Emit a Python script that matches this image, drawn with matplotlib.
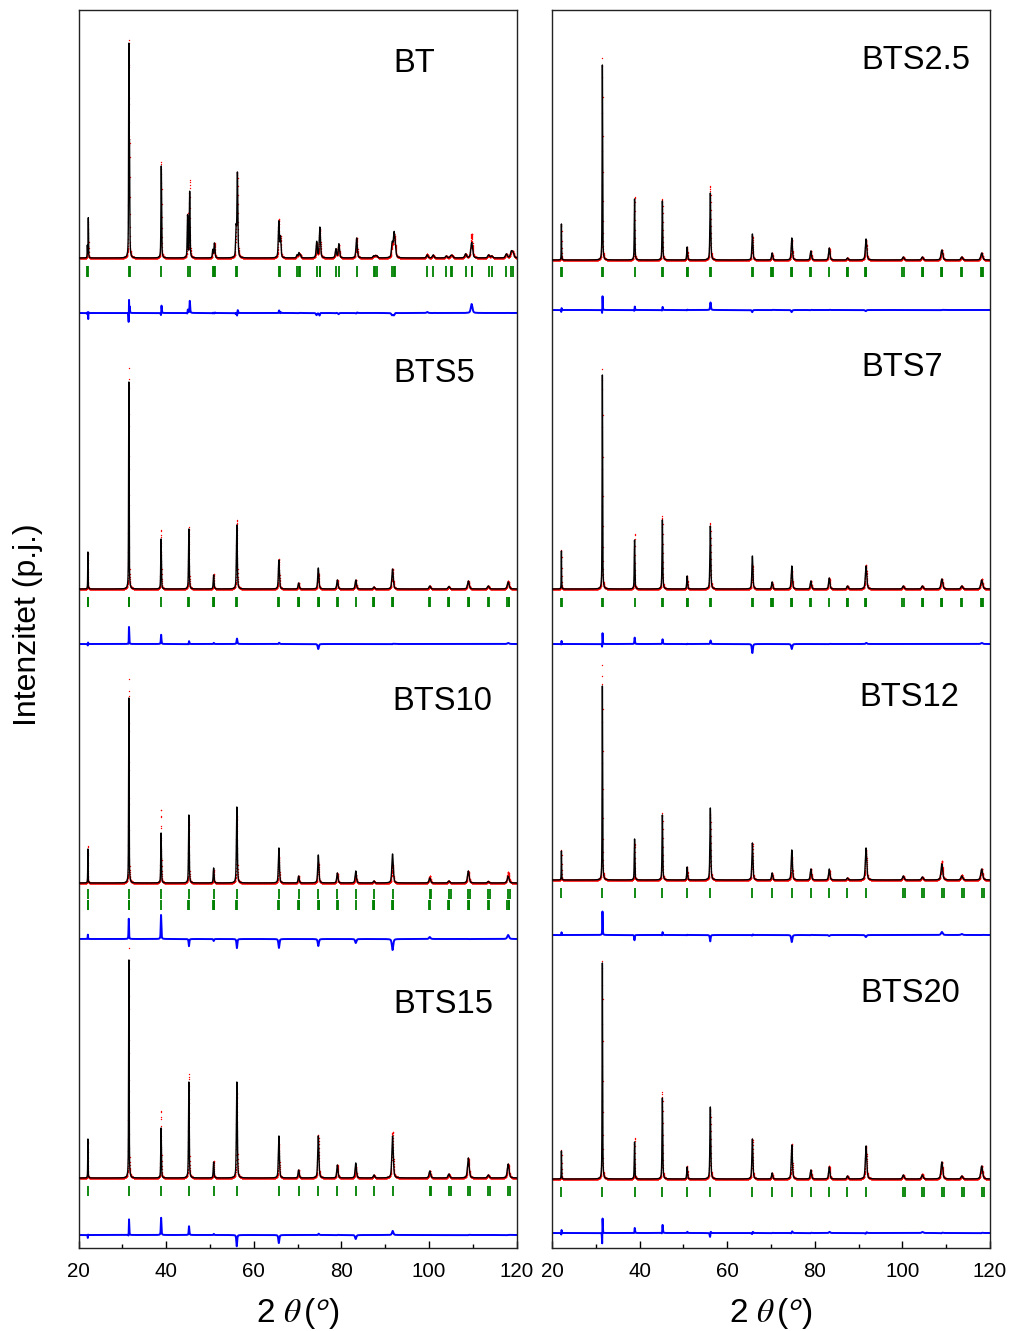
import numpy as np
import matplotlib
matplotlib.use("Agg")
import matplotlib.pyplot as plt
from matplotlib.ticker import MultipleLocator

plt.rcParams['font.family'] = ['Liberation Sans', 'DejaVu Sans']
plt.rcParams['mathtext.fontset'] = 'stix'

# ---------------------------------------------------------------------------
# Reflection positions (2theta, deg)
# ---------------------------------------------------------------------------
# pseudo-cubic perovskite reflections used for the Sn-doped samples
pc_pos = [22.15, 31.50, 38.85, 45.20, 50.85, 56.15, 65.75, 70.25, 74.75,
          79.10, 83.30, 87.45, 91.70, 100.20, 104.55, 109.00, 113.55, 118.10]

# tetragonal BaTiO3 reflections (BT)
bt_pos = [22.02, 22.24, 31.50, 31.65, 38.90, 44.90, 45.38, 50.66, 50.99, 51.10,
          55.98, 56.28, 65.73, 66.11, 69.90, 70.32, 70.66, 74.38, 75.08, 75.16,
          78.76, 79.44, 83.50, 87.36, 87.78, 88.12, 91.62, 92.04, 92.30, 99.60,
          100.96, 103.96, 105.00, 105.32, 108.38, 109.74, 109.84, 113.62, 114.34,
          117.68, 118.82, 119.20]

# Bragg marker sets
ticks_bt = bt_pos
ticks_tet = [22.10, 22.20, 31.45, 31.55, 38.85, 45.10, 45.25, 50.75, 50.90, 50.95,
             56.05, 56.20, 65.65, 65.80, 70.10, 70.25, 70.35, 74.60, 74.80, 74.85,
             78.95, 79.20, 83.30, 87.30, 87.45, 87.55, 91.55, 91.70, 91.80, 100.00,
             100.35, 104.40, 104.60, 104.70, 108.85, 109.10, 109.15, 113.45, 113.70,
             117.90, 118.20, 118.40]
ticks_cub = [22.15, 31.50, 38.85, 45.20, 50.85, 56.15, 65.75, 70.25, 74.75, 79.10,
             83.30, 87.45, 91.70, 100.20, 100.55, 104.55, 104.95, 109.00, 109.40,
             113.55, 114.00, 118.10, 118.60]

# ---------------------------------------------------------------------------
# Peak heights: calculated (calc_*) and observed (obs_*), arbitrary units
# ---------------------------------------------------------------------------
calc_BT = [12, 40, 205, 95, 92, 42, 66, 8, 10, 8,
           28, 84, 36, 20, 3, 5, 3, 16, 22, 10,
           9, 14, 20, 2, 2, 2, 14, 22, 10, 3,
           3, 2, 2, 2, 4, 11, 5, 3, 2, 4, 6, 5]
obs_BT = [12, 36, 210, 95, 96, 44, 77, 8, 10, 8,
          28, 84, 38, 20, 3, 5, 3, 14, 20, 10,
          9, 13, 20, 2, 2, 2, 12, 20, 10, 4,
          3, 2, 2, 2, 4, 20, 5, 3, 2, 4, 6, 5]

calc_BTS25 = [36, 195, 61, 59, 13, 67, 26, 7, 22, 9, 12, 2, 21, 3, 3, 10, 3, 7]
obs_BTS25 = [36, 203, 63, 61, 13, 74, 24, 7, 20, 9, 12, 2, 20, 3, 3, 10, 3, 7]

calc_BTS5 = [37, 207, 50, 60, 14, 64, 29, 6, 21, 9, 9, 2, 20, 3, 2.5, 8, 3, 7]
obs_BTS5 = [37, 221, 59, 62, 15, 69, 30, 6, 16, 9, 9, 2, 20, 3, 2.5, 8, 3, 8]

calc_BTS7 = [38, 214, 49, 69, 13, 63, 33, 7, 23, 8, 11, 3, 23, 3, 3, 10, 3, 9]
obs_BTS7 = [40, 220, 55, 73, 13, 66, 24, 7, 18, 8, 11, 3, 24, 3, 3, 10, 3, 10]

calc_BTS10 = [34, 185, 50, 68, 15, 76, 35, 7, 28, 10, 12, 2, 29, 5, 2, 12, 1.5, 7]
obs_BTS10 = [38, 204, 74, 61, 13, 67, 26, 7, 21, 10, 8, 2, 18, 7, 2, 12, 1.5, 11]

calc_BTS12 = [29, 194, 41, 65, 13, 72, 37, 7, 30, 11, 11, 2, 32, 4, 3, 16, 4, 11]
obs_BTS12 = [31, 215, 36, 67, 13, 66, 37, 7, 23, 11, 10, 2, 30, 4, 3, 19, 5, 11]

calc_BTS15 = [39, 218, 50, 96, 16, 96, 42, 8, 42, 13, 15, 3, 42, 7, 4, 20, 3, 14]
obs_BTS15 = [37, 230, 67, 104, 17, 85, 34, 8, 43, 13, 11, 3, 46, 7, 4, 20, 3, 14]

calc_BTS20 = [28, 216, 37, 81, 12, 72, 40, 6, 34, 9, 12, 3, 33, 4, 4, 17, 3, 13]
obs_BTS20 = [29, 219, 41, 87, 13, 70, 40, 6, 35, 9, 13, 3, 33, 4, 5, 17, 3, 13]

# zero-point offset of the observed pattern relative to the fit (deg)
shift_BT, shift_BTS25, shift_BTS5, shift_BTS7 = 0.006, 0.004, 0.003, 0.003
shift_BTS10, shift_BTS12, shift_BTS15, shift_BTS20 = -0.002, 0.003, 0.003, 0.006

names_left = ["BT", "BTS5", "BTS10", "BTS15"]
names_right = ["BTS2.5", "BTS7", "BTS12", "BTS20"]

patterns = {
    "BT":     (bt_pos, calc_BT, obs_BT, shift_BT),
    "BTS2.5": (pc_pos, calc_BTS25, obs_BTS25, shift_BTS25),
    "BTS5":   (pc_pos, calc_BTS5, obs_BTS5, shift_BTS5),
    "BTS7":   (pc_pos, calc_BTS7, obs_BTS7, shift_BTS7),
    "BTS10":  (pc_pos, calc_BTS10, obs_BTS10, shift_BTS10),
    "BTS12":  (pc_pos, calc_BTS12, obs_BTS12, shift_BTS12),
    "BTS15":  (pc_pos, calc_BTS15, obs_BTS15, shift_BTS15),
    "BTS20":  (pc_pos, calc_BTS20, obs_BTS20, shift_BTS20),
}

# vertical stacking: pattern baseline, Bragg-marker rows, difference baseline,
# label position
layout = {
    "BT":     (990, [(ticks_bt, 971, 982)], 935, 92.0, 1176),
    "BTS5":   (659, [(ticks_tet, 641, 651)], 604, 92.0, 866),
    "BTS10":  (365, [(ticks_cub, 349, 359), (ticks_tet, 338, 348)], 309, 91.6, 538),
    "BTS15":  (70, [(ticks_cub, 52, 62)], 13, 91.8, 235),
    "BTS2.5": (988, [(ticks_tet, 971, 981)], 938, 90.6, 1179),
    "BTS7":   (659, [(ticks_tet, 641, 650)], 604, 90.6, 872),
    "BTS12":  (368, [(ticks_cub, 350, 360)], 313, 90.2, 542),
    "BTS20":  (69, [(ticks_cub, 51, 61)], 15, 90.4, 246),
}

x_fine = np.arange(20.0, 120.0001, 0.005)
x_obs = np.arange(20.0, 120.0001, 0.02)


def profile(x, pos, hts, shift=0.0):
    """Sum of pseudo-Voigt peaks with angle-dependent width."""
    y = np.zeros_like(x)
    for p, h in zip(pos, hts):
        w = 0.09 + 0.004 * (p - 20.0)
        d = x - p - shift
        g = np.exp(-4.0 * np.log(2.0) * (d / w) ** 2)
        lor = 1.0 / (1.0 + 4.0 * (d / w) ** 2)
        y += h * (0.5 * g + 0.5 * lor)
    return y


fig = plt.figure(figsize=(10.13, 13.31), dpi=100)
axL = fig.add_axes([78.5 / 1013, 83 / 1331, 438 / 1013, 1238 / 1331])
axR = fig.add_axes([552 / 1013, 83 / 1331, 438 / 1013, 1238 / 1331])

for ax, names in ((axL, names_left), (axR, names_right)):
    for name in names:
        pos, calc_h, obs_h, shift = patterns[name]
        base, tick_rows, dbase, lx, ly = layout[name]
        y_calc = profile(x_fine, pos, calc_h)
        y_obs = profile(x_obs, pos, obs_h, shift)
        y_calc_o = profile(x_obs, pos, calc_h)
        ax.plot(x_obs, base + y_obs, ls='none', marker='o', ms=1.0, mew=0,
                color='#ff0000', zorder=2)
        ax.plot(x_fine, base + y_calc, color='black', lw=1.0, zorder=3)
        for tset, y0, y1 in tick_rows:
            ax.vlines(tset, y0, y1, color='#008000', lw=1.3, zorder=2)
        ax.plot(x_obs, dbase + (y_obs - y_calc_o), color='#0000ff', lw=1.4, zorder=2)
        ax.text(lx, ly, name, fontsize=23.5, ha='left', va='baseline', color='black')

    ax.set_xlim(20, 120)
    ax.set_ylim(0, 1238)
    ax.set_yticks([])
    ax.xaxis.set_major_locator(MultipleLocator(20))
    ax.xaxis.set_minor_locator(MultipleLocator(10))
    ax.tick_params(axis='x', which='major', direction='in', length=5, width=1.0,
                   labelsize=14.8, pad=10, top=False)
    ax.tick_params(axis='x', which='minor', direction='in', length=3.2, width=1.0,
                   top=False)
    for sp in ax.spines.values():
        sp.set_linewidth(1.0)
        sp.set_color('#222222')

for ax in (axL, axR):
    cx = (ax.get_position().x0 + ax.get_position().x1) / 2
    fig.text(cx, 9 / 1331, r'2 $\theta\,$($^{\mathsf{o}}$)', fontsize=24,
             ha='center', va='baseline')

fig.text(28 / 1013, (1331 - 625) / 1331, 'Intenzitet (p.j.)', fontsize=23,
         rotation=90, ha='center', va='center')

fig.savefig('out.png', dpi=100)
